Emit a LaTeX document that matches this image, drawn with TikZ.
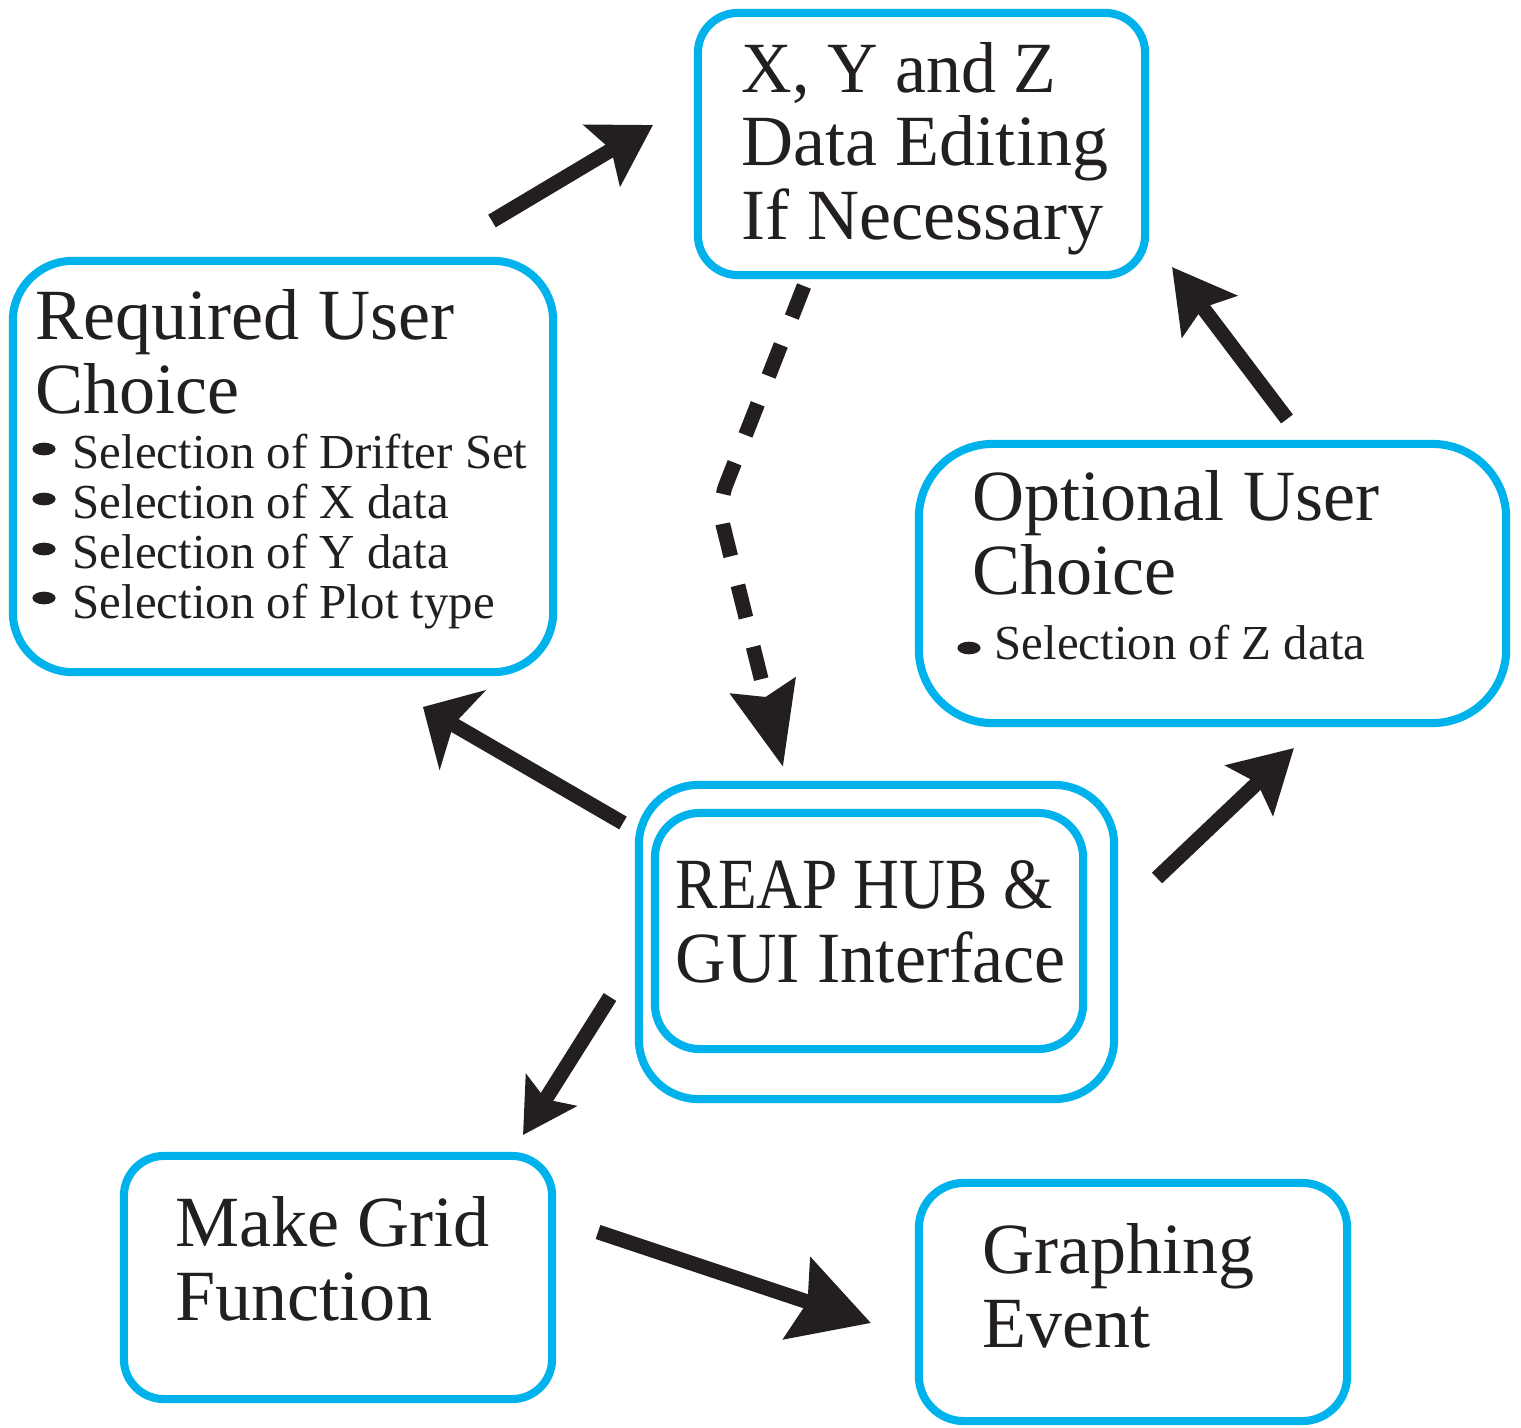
\documentclass[tikz,border=0pt]{standalone}
\usepackage{fontspec}
\setmainfont{Liberation Serif}
\newfontfamily\narrowserif[FakeStretch=0.88]{Liberation Serif}
\newfontfamily\slimserif[FakeStretch=0.97]{Liberation Serif}
\usetikzlibrary{arrows.meta}

\definecolor{boxline}{RGB}{0,178,236}
\definecolor{ink}{RGB}{35,31,32}

\tikzset{
  box/.style={draw=boxline, line width=2.3pt, inner sep=0pt, fill=none},
  % text blocks are placed by the baseline of their last line
  bigtext/.style={font=\fontsize{20.5}{20.8}\selectfont, text=ink, align=left,
    inner sep=0pt, anchor=base west},
  smalltext/.style={font=\fontsize{13.9}{14.2}\selectfont, text=ink, align=left,
    inner sep=0pt, anchor=base west},
  flow/.style={draw=ink, line width=4.2pt},
  head/.style 2 args={-{Stealth[length=#1, width=#2, inset=3pt]}},
}

\begin{document}
\begin{tikzpicture}[x=0.01cm, y=-0.01cm]
\useasboundingbox (0,0) rectangle (1521,1427);

% boxes
\node[box, rounded corners=11.4pt, minimum width=4.47cm, minimum height=2.62cm] (xyz) at (921.5,144) {};
\node[box, rounded corners=17pt, minimum width=5.40cm, minimum height=4.11cm] (req) at (283,466.5) {};
\node[box, rounded corners=21pt, minimum width=5.87cm, minimum height=2.79cm] (opt) at (1212.5,583.5) {};
\node[box, rounded corners=17pt, minimum width=4.75cm, minimum height=3.14cm] (hubout) at (876.5,942) {};
\node[box, rounded corners=12.8pt, minimum width=4.28cm, minimum height=2.36cm] (hubin) at (869,931) {};
\node[box, rounded corners=11.4pt, minimum width=4.28cm, minimum height=2.43cm] (grid) at (338,1277.5) {};
\node[box, rounded corners=12.8pt, minimum width=4.28cm, minimum height=2.38cm] (graph) at (1133,1302) {};

% box texts
\node[bigtext] (t-xyz) at (741,239) {{\slimserif X, Y and Z}\\Data Editing\\If Necessary};
\node[bigtext] (t-req) at (35,413) {Required User\\Choice};
\node[smalltext] (l-req) at (72,618) {Selection of Drifter Set\\Selection of X data\\Selection of Y data\\Selection of Plot type};
\node[bigtext] (t-opt) at (972,594) {Optional User\\Choice};
\node[smalltext] (l-opt) at (994,659) {Selection of Z data};
\node[bigtext] (t-hub) at (675,982) {{\narrowserif REAP HUB \&}\\{\slimserif GUI Interface}};
\node[bigtext] (t-grid) at (175,1320) {Make Grid\\Function};
\node[bigtext] (t-graph) at (982,1347) {Graphing\\Event};

% bullets
\foreach \yy in {449,499,549,598}
  \fill[ink] (44,\yy) ellipse [x radius=3.3pt, y radius=1.8pt];
\fill[ink] (969,648) ellipse [x radius=3.3pt, y radius=1.8pt];

% arrow end points
\coordinate (a1s) at (492,221);  \coordinate (a1e) at (653,125);
\coordinate (a2s) at (804,286);  \coordinate (a2m) at (718,505); \coordinate (a2e) at (783,767);
\coordinate (a3s) at (623,823);  \coordinate (a3e) at (423,707);
\coordinate (a4s) at (1287,419); \coordinate (a4e) at (1172,267);
\coordinate (a5s) at (1157,878); \coordinate (a5e) at (1294,748);
\coordinate (a6s) at (610,997);  \coordinate (a6e) at (523,1135);
\coordinate (a7s) at (598,1232); \coordinate (a7e) at (871,1323);

% connectors
\draw[flow, head={16.8pt}{20pt}] (a1s) -- (a1e);
\draw[flow, head={23.5pt}{18.5pt}, dash pattern=on 9.5pt off 8.5pt, rounded corners=6pt] (a2s) -- (a2m) -- (a2e);
\draw[flow, head={13pt}{26pt}] (a3s) -- (a3e);
\draw[flow, head={17.5pt}{19.3pt}] (a4s) -- (a4e);
\draw[flow, head={17.4pt}{19.3pt}] (a5s) -- (a5e);
\draw[flow, head={15pt}{16.8pt}] (a6s) -- (a6e);
\draw[flow, head={22pt}{24pt}] (a7s) -- (a7e);
\end{tikzpicture}
\end{document}
